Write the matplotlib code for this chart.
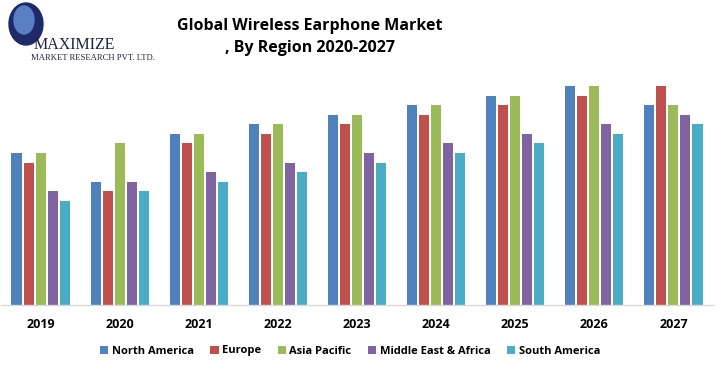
import matplotlib
matplotlib.use("Agg")
import matplotlib.pyplot as plt
import numpy as np
from matplotlib.patches import Ellipse

years = ["2019", "2020", "2021", "2022", "2023", "2024", "2025", "2026", "2027"]
regions = ["North America", "Europe", "Asia Pacific", "Middle East & Africa", "South America"]
north_america = [15.2, 12.3, 17.1, 18.1, 19.0, 20.0, 20.9, 21.9, 20.0]
europe        = [14.2, 11.4, 16.2, 17.1, 18.1, 19.0, 20.0, 20.9, 21.9]
asia_pacific  = [15.2, 16.2, 17.1, 18.1, 19.0, 20.0, 20.9, 21.9, 20.0]
mea           = [11.4, 12.3, 13.3, 14.2, 15.2, 16.2, 17.1, 18.1, 19.0]
south_america = [10.4, 11.4, 12.3, 13.3, 14.2, 15.2, 16.2, 17.1, 18.1]
series = [north_america, europe, asia_pacific, mea, south_america]
colors = ["#4F81BD", "#C0504D", "#9BBB59", "#8064A2", "#4BACC6"]

W, H = 718, 370
fig = plt.figure(figsize=(W / 100, H / 100), dpi=100)
font = "Open Sans"

# axes: left 1px, right 713px, bottom y=305, top y=76
ax = fig.add_axes([1 / W, (H - 305) / H, 712 / W, (305 - 76) / H])
x = np.arange(len(years))
pitch = 0.152
width = 0.127
for i, (vals, c, name) in enumerate(zip(series, colors, regions)):
    ax.bar(x + (i - 2) * pitch, vals, width=width, color=c, label=name)
ax.set_xlim(-0.5, len(years) - 0.5)
ax.set_ylim(0, 22.9)
for s in ["top", "left", "right"]:
    ax.spines[s].set_visible(False)
ax.spines["bottom"].set_color("#D9D9D9")
ax.spines["bottom"].set_linewidth(1.0)
ax.set_yticks([])
ax.set_xticks(x)
ax.set_xticklabels(years, fontsize=9, fontweight="bold", family=font)
ax.tick_params(axis="x", length=0, pad=9)

leg = fig.legend(loc="center", bbox_to_anchor=(350 / W, (H - 351) / H), ncol=5,
                 frameon=False, prop={"family": font, "weight": "bold", "size": 8},
                 handlelength=0.75, handleheight=0.75, handletextpad=0.3, columnspacing=1.5)

fig.text(310 / W, (H - 26) / H, "Global Wireless Earphone Market", ha="center", va="center",
         fontsize=11.5, fontweight="bold", family=font)
fig.text(310 / W, (H - 48) / H, ", By Region 2020-2027", ha="center", va="center",
         fontsize=11.5, fontweight="bold", family=font)

# logo
lax = fig.add_axes([0, (H - 65) / H, 160 / W, 65 / H])
lax.set_xlim(0, 160)
lax.set_ylim(65, 0)
lax.axis("off")
lax.add_patch(Ellipse((26, 24), 34, 42, color="#1F2A6B"))
lax.add_patch(Ellipse((24, 20), 20, 28, color="#5A7FC4"))
lax.text(34, 45, "MAXIMIZE", family="Liberation Serif", fontsize=11.5, color="#1E2247", va="center")
lax.text(31, 58, "MARKET RESEARCH PVT. LTD.", family="Liberation Serif", fontsize=6.2,
         color="#1E2247", va="center")

fig.savefig("out.png", dpi=100)
